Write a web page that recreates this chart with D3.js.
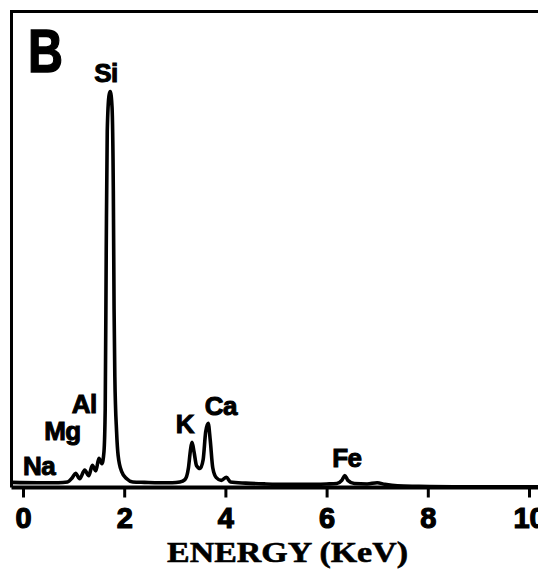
<!DOCTYPE html>
<html><head><meta charset="utf-8">
<script src="https://cdn.jsdelivr.net/npm/d3@7"></script>
<style>html,body{margin:0;padding:0;background:#fff;}svg{display:block;}</style>
</head><body>
<script>
// spectrum (energy keV, counts)
const energy = [-0.22,0.3,0.7,0.88,0.97,1.04,1.12,1.22,1.30,1.37,1.44,1.50,1.56,1.60,1.625,1.645,1.665,1.70,1.725,1.76,1.785,1.80,1.815,1.85,1.88,1.95,2.05,2.17,2.4,2.7,2.95,3.1,3.2,3.27,3.31,3.34,3.38,3.43,3.5,3.56,3.61,3.66,3.70,3.75,3.82,3.92,4.02,4.1,4.4,4.8,5.2,5.6,6.0,6.2,6.3,6.36,6.42,6.55,6.8,7.0,7.15,7.4,7.8,8.5,9.5,10.3];
const counts = [13,12,12,14,24,36,22,44,30,56,42,74,60,90,200,600,900,990,1000,960,750,450,280,140,81,40,22,14,13,12,12,14,20,50,95,114,90,55,48,70,140,162,120,50,25,18,26,14,11,9,8,8,9,10,18,30,18,10,9,12,8,4,3,2,2,2];
const xTicks = [0,2,4,6,8,10];
const labelNames = ["Si","Al","Mg","Na","K","Ca","Fe"];
const labelEnergy = [1.64,1.21,0.78,0.32,3.20,3.91,6.40];
const labelCounts = [1024,188,120,32,138,183,52];

const W=538,H=574;
const svg=d3.select("body").append("svg").attr("width",W).attr("height",H);
const x=d3.scaleLinear().domain([0,10]).range([23,529]);
const y=d3.scaleLinear().domain([0,1200]).range([487.5,12.5]);

const sans="'Liberation Sans',Arial,sans-serif";

// frame: left and top
svg.append("path").attr("d",`M11.5,487.5 V11.5 H${W}`).attr("fill","none").attr("stroke","#000").attr("stroke-width",3);

// spectrum
const pts=energy.map((e,i)=>[e,counts[i]]);
svg.append("path").datum(pts)
  .attr("d",d3.line().x(d=>x(d[0])).y(d=>y(d[1])).curve(d3.curveMonotoneX))
  .attr("fill","none").attr("stroke","#000").attr("stroke-width",3.6).attr("stroke-linejoin","round");

// x axis
const ax=svg.append("g").attr("transform","translate(0,487.5)")
  .call(d3.axisBottom(x).tickValues(xTicks).tickSize(10).tickFormat(d3.format("d")));
ax.select(".domain").remove();
svg.append("line").attr("x1",11.5).attr("x2",W).attr("y1",487.5).attr("y2",487.5).attr("stroke","#000").attr("stroke-width",4);
ax.selectAll(".tick line").attr("stroke","#000").attr("stroke-width",3);
ax.selectAll(".tick text").attr("y",null).attr("dy",null).attr("transform","translate(0,40)")
  .attr("fill","#000").attr("stroke","#000").attr("stroke-width",1.2)
  .style("font-family",sans).style("font-weight","bold").style("font-size","29px");

// peak labels
svg.append("g").selectAll("text").data(labelNames).join("text")
  .attr("x",(d,i)=>x(labelEnergy[i])).attr("y",(d,i)=>y(labelCounts[i]))
  .attr("text-anchor","middle").attr("stroke","#000").attr("stroke-width",1)
  .style("font-family",sans).style("font-weight","bold").style("font-size","26px")
  .style("letter-spacing","-0.5px")
  .text(d=>d);

// panel letter
svg.append("text").attr("x",28).attr("y",72).attr("textLength",35).attr("lengthAdjust","spacingAndGlyphs")
  .attr("stroke","#000").attr("stroke-width",1.5)
  .style("font-family",sans).style("font-weight","bold").style("font-size","61px").text("B");

// axis title
svg.append("text").attr("x",167).attr("y",562).attr("textLength",241).attr("lengthAdjust","spacingAndGlyphs")
  .attr("stroke","#000").attr("stroke-width",0.6)
  .style("font-family","'Liberation Serif','Times New Roman',serif").style("font-weight","bold").style("font-size","29px").text("ENERGY (KeV)");
</script>
</body></html>
